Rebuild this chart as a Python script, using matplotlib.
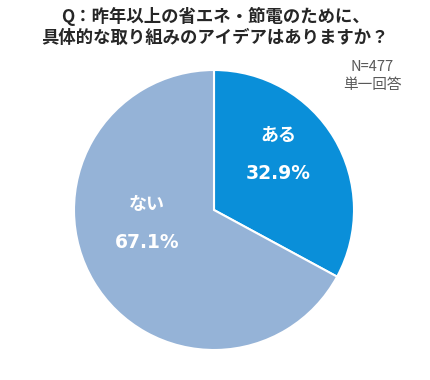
import matplotlib.pyplot as plt

plt.rcParams['font.family'] = ['Noto Sans CJK JP', 'DejaVu Sans']

# data
labels = ['ある', 'ない']
values = [32.9, 67.1]
colors = ['#0A8FD9', '#95B3D7']

fig = plt.figure(figsize=(4.3, 3.8), dpi=100)
fig.patch.set_facecolor('white')

# pie centered around (214, 210) px, radius ~140 px
cx, cy, r = 214, 210, 140
ax = fig.add_axes([(cx - r) / 430, (380 - cy - r) / 380, 2 * r / 430, 2 * r / 380])
ax.pie(values, colors=colors, startangle=90, counterclock=False,
       wedgeprops=dict(edgecolor='white', linewidth=1.5))
ax.set_xlim(-1, 1)
ax.set_ylim(-1, 1)
ax.set_aspect('equal')
ax.axis('off')

# labels inside the slices
pos = [(0.46, 0.39), (-0.48, -0.1)]
for (x, y), lab, v in zip(pos, labels, values):
  ax.text(x, y + 0.14, lab, ha='center', va='center', color='white',
          fontsize=13, fontweight='bold')
  ax.text(x, y - 0.13, f'{v}%', ha='center', va='center', color='white',
          fontsize=13.5, fontweight='bold', family=['DejaVu Sans'])

fig.text(0.5, 1 - 16 / 380, 'Q：昨年以上の省エネ・節電のために、', ha='center', va='center',
         fontsize=12.5, fontweight='bold', color='#262626')
fig.text(0.5, 1 - 38 / 380, '具体的な取り組みのアイデアはありますか？', ha='center', va='center',
         fontsize=12.5, fontweight='bold', color='#262626')
fig.text(372 / 430, 1 - 67 / 380, 'N=477', ha='center', va='center', fontsize=10.5, color='#595959')
fig.text(372 / 430, 1 - 85 / 380, '単一回答', ha='center', va='center', fontsize=10.5, color='#595959')

fig.savefig('out.png', dpi=100)
